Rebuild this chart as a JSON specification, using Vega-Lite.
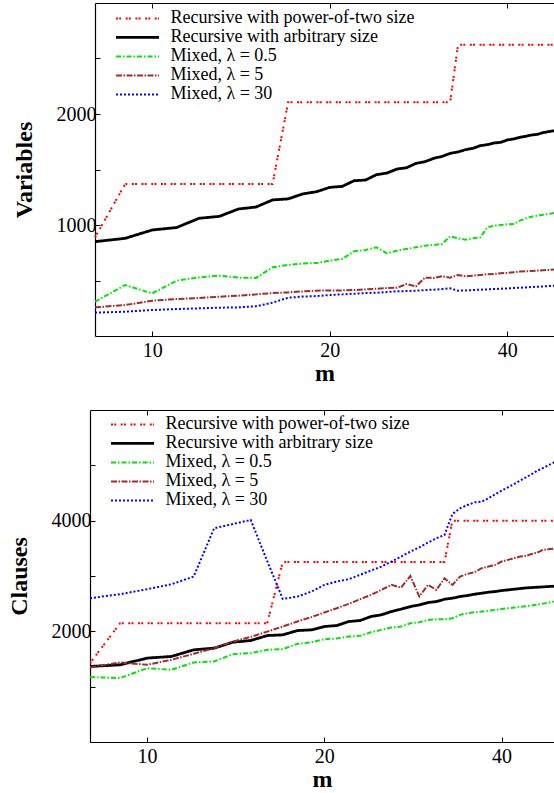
{
"$schema": "https://vega.github.io/schema/vega-lite/v6.json",
"padding": {"left": 7, "top": 2, "right": 0, "bottom": 0},
"spacing": 24,
"config": {
  "view": {"stroke": null},
  "font": "Liberation Serif",
  "axis": {"domainColor": "black", "domainWidth": 1.2, "tickColor": "black", "tickWidth": 1, "labelColor": "black", "labelFontSize": 20, "labelFont": "Liberation Serif", "titleFont": "Liberation Serif", "titleFontSize": 24, "titleFontWeight": "bold", "titleColor": "black", "grid": false, "tickSize": -5, "labelPadding": 4, "labelFlush": false, "labelOverlap": false},
  "axisX": {"labelPadding": 9, "titlePadding": 1},
  "axisY": {"titlePadding": 20},
  "legend": {"orient": "none", "title": null, "padding": 0, "symbolType": "stroke", "symbolSize": 1849, "clipHeight": 18.75, "rowPadding": 0, "labelFontSize": 18, "labelOffset": 10, "labelFont": "Liberation Serif", "labelColor": "black", "labelLimit": 400}
},
"datasets": {
"vars": [
{"m":8,"s":"a","v":889},{"m":9,"s":"a","v":1369},{"m":10,"s":"a","v":1369},{"m":11,"s":"a","v":1369},{"m":12,"s":"a","v":1369},{"m":13,"s":"a","v":1369},{"m":14,"s":"a","v":1369},{"m":15,"s":"a","v":1369},{"m":16,"s":"a","v":1369},{"m":17,"s":"a","v":2105},{"m":18,"s":"a","v":2105},{"m":19,"s":"a","v":2105},{"m":20,"s":"a","v":2105},{"m":21,"s":"a","v":2105},{"m":22,"s":"a","v":2105},{"m":23,"s":"a","v":2105},{"m":24,"s":"a","v":2105},{"m":25,"s":"a","v":2105},{"m":26,"s":"a","v":2105},{"m":27,"s":"a","v":2105},{"m":28,"s":"a","v":2105},{"m":29,"s":"a","v":2105},{"m":30,"s":"a","v":2105},{"m":31,"s":"a","v":2105},{"m":32,"s":"a","v":2105},{"m":33,"s":"a","v":2624},{"m":34,"s":"a","v":2624},{"m":35,"s":"a","v":2624},{"m":36,"s":"a","v":2624},{"m":37,"s":"a","v":2624},{"m":38,"s":"a","v":2624},{"m":39,"s":"a","v":2624},{"m":40,"s":"a","v":2624},{"m":41,"s":"a","v":2624},{"m":42,"s":"a","v":2624},{"m":43,"s":"a","v":2624},{"m":44,"s":"a","v":2624},{"m":45,"s":"a","v":2624},{"m":46,"s":"a","v":2624},{"m":47,"s":"a","v":2624},{"m":48,"s":"a","v":2624},
{"m":8,"s":"b","v":850},{"m":9,"s":"b","v":880},{"m":10,"s":"b","v":955},{"m":11,"s":"b","v":977},{"m":12,"s":"b","v":1060},{"m":13,"s":"b","v":1078},{"m":14,"s":"b","v":1144},{"m":15,"s":"b","v":1162},{"m":16,"s":"b","v":1226},{"m":17,"s":"b","v":1235},{"m":18,"s":"b","v":1280},{"m":19,"s":"b","v":1300},{"m":20,"s":"b","v":1339},{"m":21,"s":"b","v":1348},{"m":22,"s":"b","v":1399},{"m":23,"s":"b","v":1405},{"m":24,"s":"b","v":1453},{"m":25,"s":"b","v":1468},{"m":26,"s":"b","v":1504},{"m":27,"s":"b","v":1516},{"m":28,"s":"b","v":1555},{"m":29,"s":"b","v":1570},{"m":30,"s":"b","v":1600},{"m":31,"s":"b","v":1618},{"m":32,"s":"b","v":1645},{"m":33,"s":"b","v":1658},{"m":34,"s":"b","v":1679},{"m":35,"s":"b","v":1691},{"m":36,"s":"b","v":1715},{"m":37,"s":"b","v":1724},{"m":38,"s":"b","v":1739},{"m":39,"s":"b","v":1745},{"m":40,"s":"b","v":1766},{"m":41,"s":"b","v":1775},{"m":42,"s":"b","v":1790},{"m":43,"s":"b","v":1799},{"m":44,"s":"b","v":1811},{"m":45,"s":"b","v":1817},{"m":46,"s":"b","v":1832},{"m":47,"s":"b","v":1841},{"m":48,"s":"b","v":1850},
{"m":8,"s":"c","v":309},{"m":9,"s":"c","v":459},{"m":10,"s":"c","v":384},{"m":11,"s":"c","v":498},{"m":12,"s":"c","v":528},{"m":13,"s":"c","v":544},{"m":14,"s":"c","v":526},{"m":15,"s":"c","v":523},{"m":16,"s":"c","v":619},{"m":17,"s":"c","v":640},{"m":18,"s":"c","v":652},{"m":19,"s":"c","v":658},{"m":20,"s":"c","v":679},{"m":21,"s":"c","v":694},{"m":22,"s":"c","v":763},{"m":23,"s":"c","v":775},{"m":24,"s":"c","v":799},{"m":25,"s":"c","v":745},{"m":26,"s":"c","v":769},{"m":27,"s":"c","v":784},{"m":28,"s":"c","v":799},{"m":29,"s":"c","v":814},{"m":30,"s":"c","v":820},{"m":31,"s":"c","v":829},{"m":32,"s":"c","v":898},{"m":33,"s":"c","v":880},{"m":34,"s":"c","v":868},{"m":35,"s":"c","v":880},{"m":36,"s":"c","v":889},{"m":37,"s":"c","v":979},{"m":38,"s":"c","v":994},{"m":39,"s":"c","v":1000},{"m":40,"s":"c","v":1006},{"m":41,"s":"c","v":1009},{"m":42,"s":"c","v":1039},{"m":43,"s":"c","v":1060},{"m":44,"s":"c","v":1075},{"m":45,"s":"c","v":1084},{"m":46,"s":"c","v":1093},{"m":47,"s":"c","v":1099},{"m":48,"s":"c","v":1108},
{"m":8,"s":"d","v":258},{"m":9,"s":"d","v":279},{"m":10,"s":"d","v":318},{"m":11,"s":"d","v":333},{"m":12,"s":"d","v":342},{"m":13,"s":"d","v":354},{"m":14,"s":"d","v":363},{"m":15,"s":"d","v":375},{"m":16,"s":"d","v":387},{"m":17,"s":"d","v":393},{"m":18,"s":"d","v":402},{"m":19,"s":"d","v":408},{"m":20,"s":"d","v":411},{"m":21,"s":"d","v":411},{"m":22,"s":"d","v":414},{"m":23,"s":"d","v":420},{"m":24,"s":"d","v":426},{"m":25,"s":"d","v":432},{"m":26,"s":"d","v":435},{"m":27,"s":"d","v":468},{"m":28,"s":"d","v":447},{"m":29,"s":"d","v":526},{"m":30,"s":"d","v":523},{"m":31,"s":"d","v":538},{"m":32,"s":"d","v":526},{"m":33,"s":"d","v":550},{"m":34,"s":"d","v":538},{"m":35,"s":"d","v":544},{"m":36,"s":"d","v":550},{"m":37,"s":"d","v":556},{"m":38,"s":"d","v":559},{"m":39,"s":"d","v":565},{"m":40,"s":"d","v":568},{"m":41,"s":"d","v":574},{"m":42,"s":"d","v":580},{"m":43,"s":"d","v":583},{"m":44,"s":"d","v":586},{"m":45,"s":"d","v":589},{"m":46,"s":"d","v":592},{"m":47,"s":"d","v":595},{"m":48,"s":"d","v":598},
{"m":8,"s":"e","v":210},{"m":9,"s":"e","v":219},{"m":10,"s":"e","v":234},{"m":11,"s":"e","v":243},{"m":12,"s":"e","v":249},{"m":13,"s":"e","v":255},{"m":14,"s":"e","v":258},{"m":15,"s":"e","v":268},{"m":16,"s":"e","v":300},{"m":17,"s":"e","v":345},{"m":18,"s":"e","v":355},{"m":19,"s":"e","v":360},{"m":20,"s":"e","v":369},{"m":21,"s":"e","v":375},{"m":22,"s":"e","v":381},{"m":23,"s":"e","v":387},{"m":24,"s":"e","v":390},{"m":25,"s":"e","v":396},{"m":26,"s":"e","v":402},{"m":27,"s":"e","v":405},{"m":28,"s":"e","v":408},{"m":29,"s":"e","v":414},{"m":30,"s":"e","v":417},{"m":31,"s":"e","v":423},{"m":32,"s":"e","v":429},{"m":33,"s":"e","v":408},{"m":34,"s":"e","v":411},{"m":35,"s":"e","v":414},{"m":36,"s":"e","v":417},{"m":37,"s":"e","v":420},{"m":38,"s":"e","v":423},{"m":39,"s":"e","v":426},{"m":40,"s":"e","v":429},{"m":41,"s":"e","v":432},{"m":42,"s":"e","v":435},{"m":43,"s":"e","v":438},{"m":44,"s":"e","v":441},{"m":45,"s":"e","v":444},{"m":46,"s":"e","v":447},{"m":47,"s":"e","v":450},{"m":48,"s":"e","v":453}
],
"clauses": [
{"m":8,"s":"a","v":1425},{"m":9,"s":"a","v":2147},{"m":10,"s":"a","v":2147},{"m":11,"s":"a","v":2147},{"m":12,"s":"a","v":2147},{"m":13,"s":"a","v":2147},{"m":14,"s":"a","v":2147},{"m":15,"s":"a","v":2147},{"m":16,"s":"a","v":2147},{"m":17,"s":"a","v":3255},{"m":18,"s":"a","v":3255},{"m":19,"s":"a","v":3255},{"m":20,"s":"a","v":3255},{"m":21,"s":"a","v":3255},{"m":22,"s":"a","v":3255},{"m":23,"s":"a","v":3255},{"m":24,"s":"a","v":3255},{"m":25,"s":"a","v":3255},{"m":26,"s":"a","v":3255},{"m":27,"s":"a","v":3255},{"m":28,"s":"a","v":3255},{"m":29,"s":"a","v":3255},{"m":30,"s":"a","v":3255},{"m":31,"s":"a","v":3255},{"m":32,"s":"a","v":3255},{"m":33,"s":"a","v":4000},{"m":34,"s":"a","v":4000},{"m":35,"s":"a","v":4000},{"m":36,"s":"a","v":4000},{"m":37,"s":"a","v":4000},{"m":38,"s":"a","v":4000},{"m":39,"s":"a","v":4000},{"m":40,"s":"a","v":4000},{"m":41,"s":"a","v":4000},{"m":42,"s":"a","v":4000},{"m":43,"s":"a","v":4000},{"m":44,"s":"a","v":4000},{"m":45,"s":"a","v":4000},{"m":46,"s":"a","v":4000},{"m":47,"s":"a","v":4000},{"m":48,"s":"a","v":4000},{"m":49,"s":"a","v":4000},{"m":50,"s":"a","v":4000},
{"m":8,"s":"b","v":1365},{"m":9,"s":"b","v":1395},{"m":10,"s":"b","v":1516},{"m":11,"s":"b","v":1546},{"m":12,"s":"b","v":1666},{"m":13,"s":"b","v":1696},{"m":14,"s":"b","v":1804},{"m":15,"s":"b","v":1834},{"m":16,"s":"b","v":1924},{"m":17,"s":"b","v":1936},{"m":18,"s":"b","v":2014},{"m":19,"s":"b","v":2026},{"m":20,"s":"b","v":2087},{"m":21,"s":"b","v":2105},{"m":22,"s":"b","v":2177},{"m":23,"s":"b","v":2195},{"m":24,"s":"b","v":2268},{"m":25,"s":"b","v":2298},{"m":26,"s":"b","v":2358},{"m":27,"s":"b","v":2400},{"m":28,"s":"b","v":2448},{"m":29,"s":"b","v":2478},{"m":30,"s":"b","v":2520},{"m":31,"s":"b","v":2538},{"m":32,"s":"b","v":2580},{"m":33,"s":"b","v":2598},{"m":34,"s":"b","v":2629},{"m":35,"s":"b","v":2647},{"m":36,"s":"b","v":2671},{"m":37,"s":"b","v":2689},{"m":38,"s":"b","v":2707},{"m":39,"s":"b","v":2719},{"m":40,"s":"b","v":2737},{"m":41,"s":"b","v":2749},{"m":42,"s":"b","v":2761},{"m":43,"s":"b","v":2773},{"m":44,"s":"b","v":2785},{"m":45,"s":"b","v":2791},{"m":46,"s":"b","v":2797},{"m":47,"s":"b","v":2803},{"m":48,"s":"b","v":2809},{"m":49,"s":"b","v":2815},{"m":50,"s":"b","v":2821},
{"m":8,"s":"c","v":1173},{"m":9,"s":"c","v":1155},{"m":10,"s":"c","v":1335},{"m":11,"s":"c","v":1305},{"m":12,"s":"c","v":1438},{"m":13,"s":"c","v":1456},{"m":14,"s":"c","v":1588},{"m":15,"s":"c","v":1606},{"m":16,"s":"c","v":1666},{"m":17,"s":"c","v":1678},{"m":18,"s":"c","v":1774},{"m":19,"s":"c","v":1799},{"m":20,"s":"c","v":1858},{"m":21,"s":"c","v":1870},{"m":22,"s":"c","v":1906},{"m":23,"s":"c","v":1918},{"m":24,"s":"c","v":1984},{"m":25,"s":"c","v":2026},{"m":26,"s":"c","v":2068},{"m":27,"s":"c","v":2086},{"m":28,"s":"c","v":2146},{"m":29,"s":"c","v":2164},{"m":30,"s":"c","v":2206},{"m":31,"s":"c","v":2218},{"m":32,"s":"c","v":2218},{"m":33,"s":"c","v":2236},{"m":34,"s":"c","v":2297},{"m":35,"s":"c","v":2327},{"m":36,"s":"c","v":2345},{"m":37,"s":"c","v":2357},{"m":38,"s":"c","v":2375},{"m":39,"s":"c","v":2387},{"m":40,"s":"c","v":2405},{"m":41,"s":"c","v":2417},{"m":42,"s":"c","v":2429},{"m":43,"s":"c","v":2441},{"m":44,"s":"c","v":2453},{"m":45,"s":"c","v":2465},{"m":46,"s":"c","v":2483},{"m":47,"s":"c","v":2501},{"m":48,"s":"c","v":2519},{"m":49,"s":"c","v":2537},{"m":50,"s":"c","v":2550},
{"m":8,"s":"d","v":1347},{"m":9,"s":"d","v":1437},{"m":10,"s":"d","v":1395},{"m":11,"s":"d","v":1486},{"m":12,"s":"d","v":1594},{"m":13,"s":"d","v":1696},{"m":14,"s":"d","v":1816},{"m":15,"s":"d","v":1900},{"m":16,"s":"d","v":1995},{"m":17,"s":"d","v":2087},{"m":18,"s":"d","v":2178},{"m":19,"s":"d","v":2256},{"m":20,"s":"d","v":2340},{"m":21,"s":"d","v":2418},{"m":22,"s":"d","v":2496},{"m":23,"s":"d","v":2581},{"m":24,"s":"d","v":2659},{"m":25,"s":"d","v":2749},{"m":26,"s":"d","v":2839},{"m":27,"s":"d","v":2791},{"m":28,"s":"d","v":3000},{"m":29,"s":"d","v":2629},{"m":30,"s":"d","v":2839},{"m":31,"s":"d","v":2749},{"m":32,"s":"d","v":2959},{"m":33,"s":"d","v":2839},{"m":34,"s":"d","v":2990},{"m":35,"s":"d","v":3038},{"m":36,"s":"d","v":3068},{"m":37,"s":"d","v":3140},{"m":38,"s":"d","v":3170},{"m":39,"s":"d","v":3200},{"m":40,"s":"d","v":3261},{"m":41,"s":"d","v":3291},{"m":42,"s":"d","v":3321},{"m":43,"s":"d","v":3351},{"m":44,"s":"d","v":3363},{"m":45,"s":"d","v":3399},{"m":46,"s":"d","v":3423},{"m":47,"s":"d","v":3471},{"m":48,"s":"d","v":3483},{"m":49,"s":"d","v":3495},{"m":50,"s":"d","v":3510},
{"m":8,"s":"e","v":2599},{"m":9,"s":"e","v":2671},{"m":10,"s":"e","v":2761},{"m":11,"s":"e","v":2851},{"m":12,"s":"e","v":2990},{"m":13,"s":"e","v":3864},{"m":14,"s":"e","v":3940},{"m":15,"s":"e","v":4013},{"m":16,"s":"e","v":3268},{"m":17,"s":"e","v":2585},{"m":18,"s":"e","v":2627},{"m":19,"s":"e","v":2717},{"m":20,"s":"e","v":2839},{"m":21,"s":"e","v":2900},{"m":22,"s":"e","v":2942},{"m":23,"s":"e","v":3020},{"m":24,"s":"e","v":3098},{"m":25,"s":"e","v":3170},{"m":26,"s":"e","v":3261},{"m":27,"s":"e","v":3351},{"m":28,"s":"e","v":3441},{"m":29,"s":"e","v":3519},{"m":30,"s":"e","v":3604},{"m":31,"s":"e","v":3682},{"m":32,"s":"e","v":3742},{"m":33,"s":"e","v":4120},{"m":34,"s":"e","v":4223},{"m":35,"s":"e","v":4283},{"m":36,"s":"e","v":4331},{"m":37,"s":"e","v":4344},{"m":38,"s":"e","v":4404},{"m":39,"s":"e","v":4476},{"m":40,"s":"e","v":4542},{"m":41,"s":"e","v":4602},{"m":42,"s":"e","v":4662},{"m":43,"s":"e","v":4722},{"m":44,"s":"e","v":4782},{"m":45,"s":"e","v":4842},{"m":46,"s":"e","v":4902},{"m":47,"s":"e","v":4950},{"m":48,"s":"e","v":4999},{"m":49,"s":"e","v":5047},{"m":50,"s":"e","v":5090}
]
},
"vconcat": [
{
  "width": 464, "height": 333,
  "data": {"name": "vars"},
  "layer": [
    {"mark": {"type": "line", "clip": true},
     "encoding": {
       "x": {"field": "m", "type": "quantitative", "scale": {"type": "log", "domain": [8, 48], "range": [5, 464], "nice": false}, "axis": {"values": [10, 20, 40], "format": "d", "title": "m"}},
       "y": {"field": "v", "type": "quantitative", "title": "Variables", "scale": {"domain": [0, 3000], "nice": false}, "axis": {"values": [500, 1000, 1500, 2000, 2500], "format": "d", "labelExpr": "datum.value % 1000 == 0 ? datum.label : ''", "offset": -5}},
       "color": {"field": "s", "type": "nominal", "scale": {"domain": ["a", "b", "c", "d", "e"], "range": ["#ff0000", "#000000", "#00e600", "#a52a2a", "#0000ff"]}, "legend": {"legendX": 24.5, "legendY": 6, "labelExpr": "datum.label == 'a' ? 'Recursive with power-of-two size' : datum.label == 'b' ? 'Recursive with arbitrary size' : datum.label == 'c' ? 'Mixed, λ = 0.5' : datum.label == 'd' ? '\u00a0Mixed, λ = 5' : '\u00a0Mixed, λ = 30'"}},
       "strokeDash": {"field": "s", "type": "nominal", "scale": {"domain": ["a", "b", "c", "d", "e"], "range": [[2, 1.2, 2, 4.5], [1, 0], [5, 2, 1.5, 2], [6, 1.5, 1.5, 1.5], [2, 2]]}, "legend": {"legendX": 24.5, "legendY": 6, "labelExpr": "datum.label == 'a' ? 'Recursive with power-of-two size' : datum.label == 'b' ? 'Recursive with arbitrary size' : datum.label == 'c' ? 'Mixed, λ = 0.5' : datum.label == 'd' ? '\u00a0Mixed, λ = 5' : '\u00a0Mixed, λ = 30'"}},
       "strokeWidth": {"field": "s", "type": "nominal", "scale": {"type": "ordinal", "domain": ["a", "b", "c", "d", "e"], "range": [2, 2.8, 2, 2, 2]}, "legend": {"legendX": 24.5, "legendY": 6, "labelExpr": "datum.label == 'a' ? 'Recursive with power-of-two size' : datum.label == 'b' ? 'Recursive with arbitrary size' : datum.label == 'c' ? 'Mixed, λ = 0.5' : datum.label == 'd' ? '\u00a0Mixed, λ = 5' : '\u00a0Mixed, λ = 30'"}}
     }},
    {"mark": {"type": "line", "opacity": 0},
     "encoding": {
       "x": {"field": "m", "type": "quantitative", "scale": {"type": "log", "domain": [8, 48], "range": [5, 464], "nice": false}, "axis": {"orient": "top", "values": [10, 20, 40], "labels": false, "title": null}},
       "y": {"field": "v", "type": "quantitative", "title": "Variables", "scale": {"domain": [0, 3000], "nice": false}},
       "detail": {"field": "s"}
     }}
  ],
  "resolve": {"axis": {"x": "independent"}}
},
{
  "width": 464, "height": 332,
  "data": {"name": "clauses"},
  "layer": [
    {"mark": {"type": "line", "clip": true},
     "encoding": {
       "x": {"field": "m", "type": "quantitative", "scale": {"type": "log", "domain": [8, 49.1], "nice": false}, "axis": {"values": [10, 20, 40], "format": "d", "title": "m"}},
       "y": {"field": "v", "type": "quantitative", "title": "Clauses", "scale": {"domain": [0, 6000], "nice": false}, "axis": {"values": [1000, 2000, 3000, 4000, 5000], "format": "d", "labelExpr": "datum.value % 2000 == 0 ? datum.label : ''"}},
       "color": {"field": "s", "type": "nominal", "scale": {"domain": ["a", "b", "c", "d", "e"], "range": ["#ff0000", "#000000", "#00e600", "#a52a2a", "#0000ff"]}, "legend": {"legendX": 19.5, "legendY": 5, "labelExpr": "datum.label == 'a' ? 'Recursive with power-of-two size' : datum.label == 'b' ? 'Recursive with arbitrary size' : datum.label == 'c' ? 'Mixed, λ = 0.5' : datum.label == 'd' ? '\u00a0Mixed, λ = 5' : '\u00a0Mixed, λ = 30'"}},
       "strokeDash": {"field": "s", "type": "nominal", "scale": {"domain": ["a", "b", "c", "d", "e"], "range": [[2, 1.2, 2, 4.5], [1, 0], [5, 2, 1.5, 2], [6, 1.5, 1.5, 1.5], [2, 2]]}, "legend": {"legendX": 19.5, "legendY": 5, "labelExpr": "datum.label == 'a' ? 'Recursive with power-of-two size' : datum.label == 'b' ? 'Recursive with arbitrary size' : datum.label == 'c' ? 'Mixed, λ = 0.5' : datum.label == 'd' ? '\u00a0Mixed, λ = 5' : '\u00a0Mixed, λ = 30'"}},
       "strokeWidth": {"field": "s", "type": "nominal", "scale": {"type": "ordinal", "domain": ["a", "b", "c", "d", "e"], "range": [2, 2.8, 2, 2, 2]}, "legend": {"legendX": 19.5, "legendY": 5, "labelExpr": "datum.label == 'a' ? 'Recursive with power-of-two size' : datum.label == 'b' ? 'Recursive with arbitrary size' : datum.label == 'c' ? 'Mixed, λ = 0.5' : datum.label == 'd' ? '\u00a0Mixed, λ = 5' : '\u00a0Mixed, λ = 30'"}}
     }},
    {"mark": {"type": "line", "opacity": 0},
     "encoding": {
       "x": {"field": "m", "type": "quantitative", "scale": {"type": "log", "domain": [8, 49.1], "nice": false}, "axis": {"orient": "top", "values": [10, 20, 40], "labels": false, "title": null}},
       "y": {"field": "v", "type": "quantitative", "title": "Clauses", "scale": {"domain": [0, 6000], "nice": false}},
       "detail": {"field": "s"}
     }}
  ],
  "resolve": {"axis": {"x": "independent"}}
}
],
"resolve": {"scale": {"color": "independent", "strokeDash": "independent", "strokeWidth": "independent"}, "legend": {"color": "independent", "strokeDash": "independent", "strokeWidth": "independent"}}
}
